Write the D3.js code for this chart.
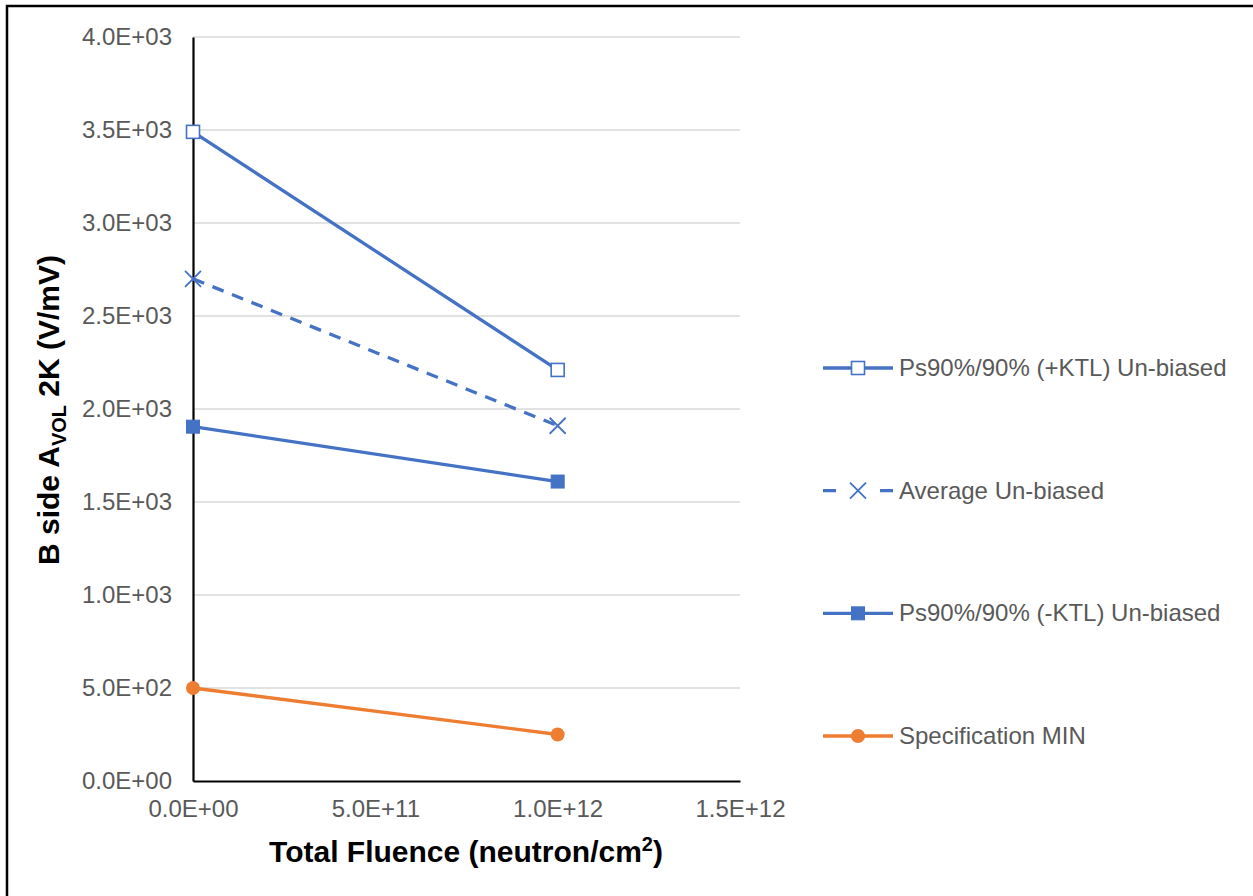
<!DOCTYPE html>
<html>
<head>
<meta charset="utf-8">
<script src="https://cdn.jsdelivr.net/npm/d3@7"></script>
<style>
  body { margin: 0; background: #fff; }
  text { font-family: "Liberation Sans", Arial, sans-serif; }
</style>
</head>
<body>
<svg id="chart" width="1253" height="896"></svg>
<script>
// fluence values (neutron/cm2)
const fluence = [0, 1e12];
const seriesNames = [
	"Ps90%/90% (+KTL) Un-biased",
	"Average Un-biased",
	"Ps90%/90% (-KTL) Un-biased",
	"Specification MIN"
];
const plusKtl = [3490, 2210];
const average = [2700, 1910];
const minusKtl = [1905, 1610];
const specMin = [500, 250];
const yTicks = [0, 500, 1000, 1500, 2000, 2500, 3000, 3500, 4000];
const xTicks = [0, 5e11, 1e12, 1.5e12];

const blue = "#4472C4";
const orange = "#ED7D31";

const svg = d3.select("#chart");
const x = d3.scaleLinear().domain([0, 1.5e12]).range([193, 740]);
const y = d3.scaleLinear().domain([0, 4000]).range([781, 37]);

const fmt = (v) => {
	const s = v.toExponential(1).toUpperCase();
	// 5.0E+11 style, exponent padded to 2 digits
	return s.replace(/E([+-])(\d)$/, "E$10$2");
};

// outer frame
svg.append("rect")
	.attr("x", 7).attr("y", 6)
	.attr("width", 1300).attr("height", 1000)
	.attr("fill", "none").attr("stroke", "#000").attr("stroke-width", 2.5);

// gridlines
svg.append("g")
	.selectAll("line")
	.data(yTicks.slice(1))
	.join("line")
	.attr("x1", x(0)).attr("x2", x(1.5e12))
	.attr("y1", (d) => y(d)).attr("y2", (d) => y(d))
	.attr("stroke", "#d9d9d9").attr("stroke-width", 1.3);

// axes
const yAxis = svg.append("g")
	.attr("transform", `translate(${x(0)},0)`)
	.call(d3.axisLeft(y).tickValues(yTicks).tickFormat(fmt).tickSize(0).tickPadding(21));
const xAxis = svg.append("g")
	.attr("transform", `translate(0,${y(0)})`)
	.call(d3.axisBottom(x).tickValues(xTicks).tickFormat(fmt).tickSize(0).tickPadding(19));
[yAxis, xAxis].forEach((g) => {
	g.select(".domain").attr("stroke", "#000").attr("stroke-width", 2.2);
	g.selectAll("text")
		.attr("fill", "#595959")
		.style("font-size", "24px")
		.style("font-family", "'Liberation Sans', Arial, sans-serif");
});

// axis titles
const yTitle = svg.append("text")
	.attr("transform", "translate(59,410) rotate(-90)")
	.attr("text-anchor", "middle")
	.style("font-size", "30px").style("font-weight", "bold")
	.attr("fill", "#000");
yTitle.append("tspan").text("B side A");
yTitle.append("tspan").text("VOL").style("font-size", "20px").attr("dy", 7);
yTitle.append("tspan").text(" 2K (V/mV)").attr("dy", -7);

const xTitle = svg.append("text")
	.attr("x", 466).attr("y", 862)
	.attr("text-anchor", "middle")
	.style("font-size", "30px").style("font-weight", "bold")
	.attr("fill", "#000");
xTitle.append("tspan").text("Total Fluence (neutron/cm");
xTitle.append("tspan").text("2").style("font-size", "20px").attr("dy", -11);
xTitle.append("tspan").text(")").attr("dy", 11);

// marker drawing
function drawMarker(g, type, cx, cy, color) {
	if (type === "openSquare") {
		g.append("rect").attr("x", cx - 6.5).attr("y", cy - 6.5).attr("width", 13).attr("height", 13)
			.attr("fill", "#fff").attr("stroke", color).attr("stroke-width", 1.6);
	} else if (type === "square") {
		g.append("rect").attr("x", cx - 6.5).attr("y", cy - 6.5).attr("width", 13).attr("height", 13)
			.attr("fill", color).attr("stroke", color).attr("stroke-width", 1);
	} else if (type === "circle") {
		g.append("circle").attr("cx", cx).attr("cy", cy).attr("r", 7).attr("fill", color);
	} else if (type === "x") {
		g.append("path")
			.attr("d", `M${cx - 8},${cy - 8}L${cx + 8},${cy + 8}M${cx - 8},${cy + 8}L${cx + 8},${cy - 8}`)
			.attr("stroke", color).attr("stroke-width", 1.8).attr("fill", "none");
	}
}

const series = [
	{ name: seriesNames[0], values: plusKtl, color: blue, dash: null, marker: "openSquare" },
	{ name: seriesNames[1], values: average, color: blue, dash: "12,9", marker: "x" },
	{ name: seriesNames[2], values: minusKtl, color: blue, dash: null, marker: "square" },
	{ name: seriesNames[3], values: specMin, color: orange, dash: null, marker: "circle" }
];

const line = d3.line().x((d) => x(d[0])).y((d) => y(d[1]));
const plot = svg.append("g");
series.forEach((s) => {
	const pts = fluence.map((f, i) => [f, s.values[i]]);
	plot.append("path")
		.datum(pts)
		.attr("d", line)
		.attr("fill", "none")
		.attr("stroke", s.color)
		.attr("stroke-width", 3.3)
		.attr("stroke-dasharray", s.dash);
	pts.forEach((p) => drawMarker(plot, s.marker, x(p[0]), y(p[1]), s.color));
});

// legend
const legendY = d3.scalePoint().domain(seriesNames).range([368, 736]);
const legend = svg.append("g");
series.forEach((s) => {
	const ly = legendY(s.name);
	legend.append("line")
		.attr("x1", 823).attr("x2", 893).attr("y1", ly).attr("y2", ly)
		.attr("stroke", s.color).attr("stroke-width", 3.3)
		.attr("stroke-dasharray", s.dash ? "13,44" : null);
	drawMarker(legend, s.marker, 858, ly, s.color);
	legend.append("text")
		.attr("x", 899).attr("y", ly + 8)
		.attr("fill", "#595959")
		.style("font-size", "24px")
		.text(s.name);
});
</script>
</body>
</html>
